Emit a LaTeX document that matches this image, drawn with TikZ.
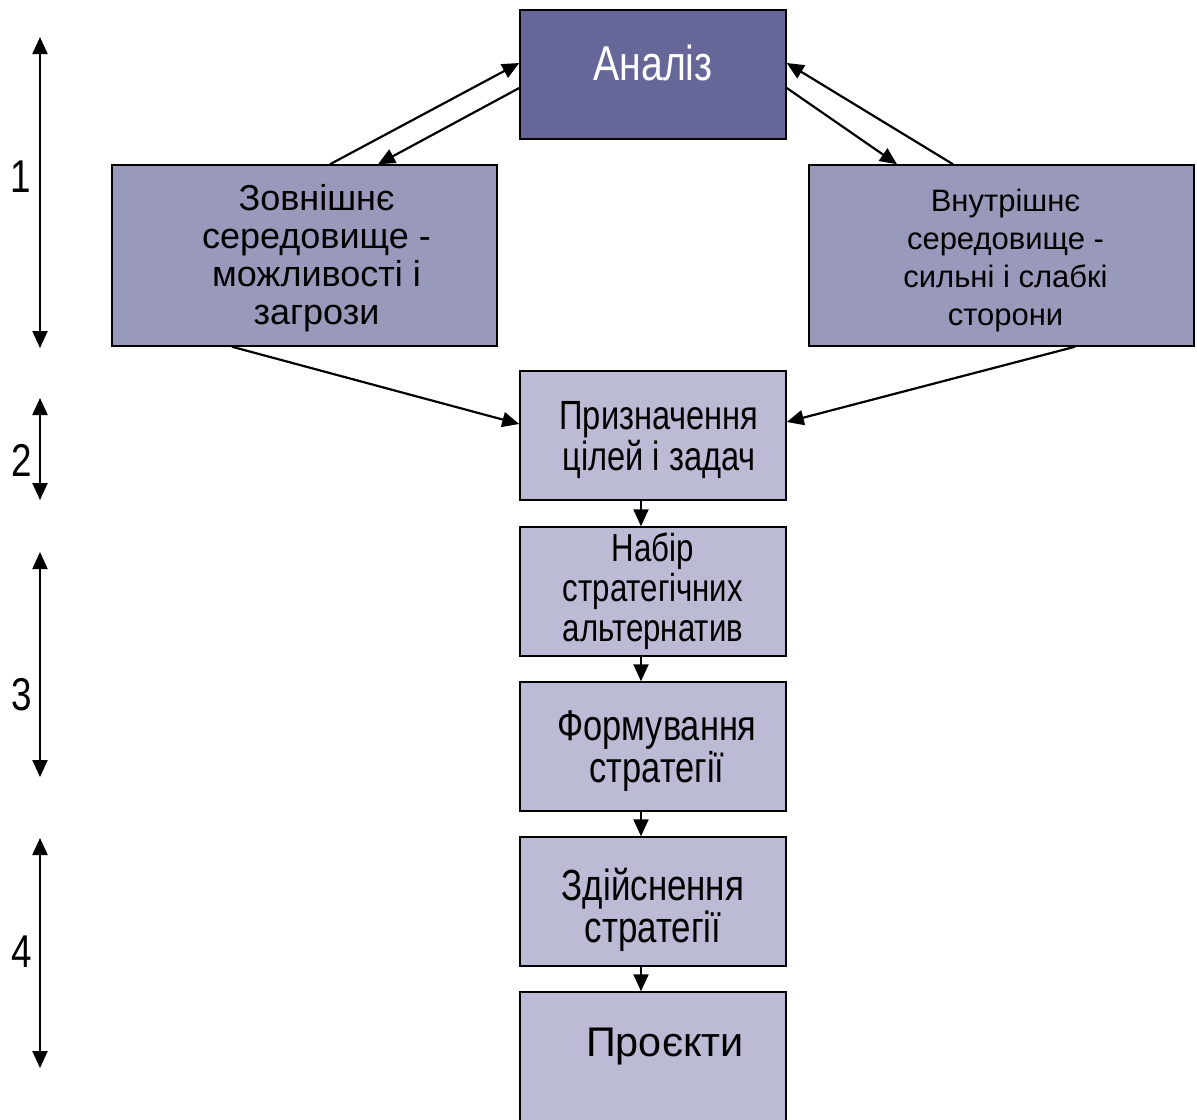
\documentclass[tikz,border=0pt]{standalone}
\usepackage{fontspec}
\setmainfont{Liberation Sans}[FakeStretch=0.8]
\newfontfamily\plainsans{Liberation Sans}
\usetikzlibrary{arrows.meta,positioning,calc}
\definecolor{anblue}{RGB}{102,102,153}
\definecolor{envblue}{RGB}{153,153,187}
\definecolor{stepblue}{RGB}{187,187,213}
\tikzset{
  topbox/.style={rectangle, draw=black, line width=0.75pt, fill=anblue, text=white,
                 minimum width=133pt, minimum height=64.5pt, inner sep=0pt, align=center,
                 font=\fontsize{24.5}{26}\selectfont},
  envbox/.style={rectangle, draw=black, line width=0.75pt, fill=envblue,
                 minimum width=192.5pt, minimum height=90.5pt, inner sep=0pt, align=center},
  stepbox/.style={rectangle, draw=black, line width=0.75pt, fill=stepblue,
                  minimum width=133pt, minimum height=64.5pt, inner sep=0pt, align=center,
                  font=\fontsize{19.5}{20}\selectfont},
  ar/.style={-{Triangle[length=8.5pt,width=7.5pt]}, line width=1.1pt},
  lvl/.style={{Triangle[length=8.5pt,width=7.5pt]}-{Triangle[length=8.5pt,width=7.5pt]}, line width=1.1pt},
  num/.style={font=\fontsize{23}{24}\selectfont, inner sep=0pt},
}

\begin{document}
\begin{tikzpicture}[x=0.5pt,y=-0.5pt]
\path[use as bounding box, clip] (0,0) rectangle (1197,1119);

% ===================== analysis and environments =====================
\node[topbox] (analiz) at (653,74.5) {\raisebox{11.5pt}{Аналіз}};
\node[envbox, font=\plainsans\fontsize{18}{19}\selectfont] (zovn) at (304.5,255.5)
  {\hspace*{12pt}\parbox{180pt}{\centering\vspace*{2.5pt}Зовнішнє\\середовище -\\можливості і\\загрози}};
\node[envbox, font=\plainsans\fontsize{15.5}{19}\selectfont] (vnutr) at (1001.5,255.5)
  {\hspace*{4pt}\parbox{180pt}{\centering\vspace*{5pt}Внутрішнє\\середовище -\\сильні і слабкі\\сторони}};

% ===================== steps =====================
\node[stepbox, font=\fontsize{20.4}{20.5}\selectfont] (tsili) at (653,435.5)
  {\hspace*{6pt}\parbox{124pt}{\centering\vspace*{5pt}Призначення\\цілей і задач}};
\node[stepbox] (nabir) at (653,591.5)
  {Набір\\стратегічних\\альтернатив};
\node[stepbox, font=\fontsize{21.5}{20}\selectfont] (formuv) at (653,746.5)
  {\hspace*{4pt}\parbox{126pt}{\centering\vspace*{5pt}Формування\\стратегії}};
\node[stepbox, font=\fontsize{21.8}{20}\selectfont] (zdiysn) at (653,901.5)
  {\parbox{130pt}{\centering\vspace*{8pt}Здійснення\\стратегії}};
\node[stepbox, minimum height=66.5pt, font=\plainsans\fontsize{20.7}{22}\selectfont] (proekty) at (653,1058.5)
  {\raisebox{16.5pt}{\hspace*{12pt}Проєкти}};

% ===================== connectors =====================
\draw[ar] (330,0 |- zovn.north) -- (analiz.west |- 0,63);
\draw[ar] (analiz.west |- 0,88) -- (378,0 |- zovn.north);
\draw[ar] (953,0 |- vnutr.north) -- (analiz.east |- 0,63);
\draw[ar] (analiz.east |- 0,88) -- (897,0 |- vnutr.north);
\draw[ar] (232,0 |- zovn.south) -- (tsili.west |- 0,424);
\draw[ar] (1075,0 |- vnutr.south) -- (tsili.east |- 0,422);
\draw[ar] (641,0 |- tsili.south) -- (641,0 |- nabir.north);
\draw[ar] (641,0 |- nabir.south) -- (641,0 |- formuv.north);
\draw[ar] (641,0 |- formuv.south) -- (641,0 |- zdiysn.north);
\draw[ar] (641,0 |- zdiysn.south) -- (641,0 |- proekty.north);

% ===================== stage scale =====================
\coordinate (s1a) at (40,37);   \coordinate (s1b) at (40,348);
\coordinate (s2a) at (40,398);  \coordinate (s2b) at (40,500);
\coordinate (s3a) at (40,552);  \coordinate (s3b) at (40,777);
\coordinate (s4a) at (40,838);  \coordinate (s4b) at (40,1068);
\draw[lvl] (s1a) -- (s1b);
\draw[lvl] (s2a) -- (s2b);
\draw[lvl] (s3a) -- (s3b);
\draw[lvl] (s4a) -- (s4b);
\node[num] (n1) at (21,177) {1};
\node[num] (n2) at (22,460) {2};
\node[num] (n3) at (22,695) {3};
\node[num] (n4) at (22,952) {4};

\end{tikzpicture}
\end{document}
